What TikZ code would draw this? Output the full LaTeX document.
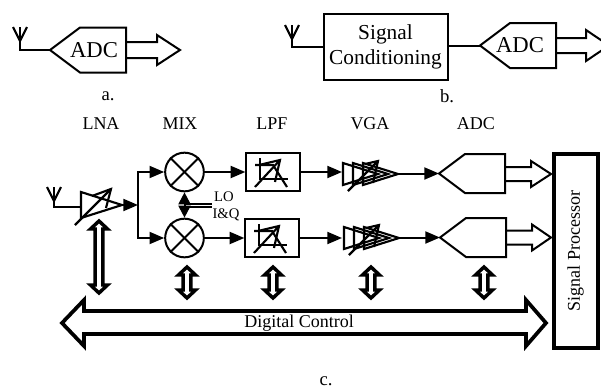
\documentclass[tikz,border=0pt]{standalone}
\usepackage{fontspec}
\setmainfont{Liberation Serif}
\usepackage{xcolor}
\usetikzlibrary{arrows.meta}
\usetikzlibrary{calc}
\usetikzlibrary{positioning}
\tikzset{
    signal line/.style={
        line width=1.5pt,
        -{Triangle[length=11pt,width=9pt]},
    },
    plain line/.style={
        line width=1.5pt,
    },
    thin symbol/.style={
        line width=1.6pt,
    },
    block box/.style={
        draw,
        line width=1.5pt,
        inner sep=0,
    },
    mixer/.style={
        draw,
        circle,
        line width=1.5pt,
        minimum size=29pt,
        inner sep=0,
    },
    ctrl arrow/.style={
        line width=2.6pt,
    },
    bus arrow/.style={
        line width=2.8pt,
    },
    small label/.style={
        font=\fontsize{11}{13}\selectfont,
        inner sep=0,
    },
    name label/.style={
        font=\fontsize{13.5}{15}\selectfont,
        inner sep=0,
    },
    caption label/.style={
        font=\fontsize{14}{16}\selectfont,
        inner sep=0,
    },
    adc label/.style={
        font=\fontsize{17}{20}\selectfont,
        inner sep=0,
    },
}

\begin{document}
\begin{tikzpicture}[x=0.75pt,y=-0.75pt]
    \useasboundingbox (0,0) rectangle (601,390);

    \newcommand\antenna[3]{
        \draw[thin symbol] (#1-7,#2) -- (#1,#2+14) -- (#1+7,#2);
        \draw[thin symbol] (#1,#2) -- (#1,#2+20) |- (#3);
    }
    \newcommand\adcpoly[6]{
        \coordinate (#1) at (#2,#3);
        \draw[plain line] (#1) -- ++(#4,-#5) -- ++(#6-#4,0) -- ++(0,2*#5) -- ++(#4-#6,0) -- cycle;
    }
    \newcommand\dataarrow[6]{
        \draw[plain line] (#1,#2-#5) -- ++(#3,0) -- ++(0,#5-#6) -- ++(#4,#6) -- ++(-#4,#6) -- ++(0,#5-#6) -- ++(-#3,0);
    }
    \newcommand\ctrlarrow[3]{
        \draw[ctrl arrow] (#1,#2) -- ++(8.5,8) -- ++(-4.7,0) -- (#1+3.8,#3-8) -- ++(4.7,0) -- (#1,#3)
            -- ++(-8.5,-8) -- ++(4.7,0) -- (#1-3.8,#2+8) -- ++(-4.7,0) -- cycle;
    }
    \newcommand\filtersym{
        \draw[thin symbol] (-13,-14) -- (-13,7) -- (15,7);
        \draw[thin symbol] (-18,-7) -- (0,-7) -- (14,15);
        \draw[thin symbol] (-18,15) -- (7,-12);
        \draw[thin symbol] (-14,-7) -- (7,-12) -- (2,10);
    }
    \newcommand\vgasym{
        \foreach \s in {0,10,20}
        {
            \draw[thin symbol] (\s-27,-11) -- (\s-27,11) -- (\s+8,0) -- cycle;
        }
        \draw[thin symbol] (-22,17) -- (8,-13);
        \draw[thin symbol] (-5,-10) -- (8,-13) -- (3,9);
    }

    % a.
    \adcpoly{adca}{50}{50}{30}{22.5}{76}
    \node[adc label] (adcatext) at (94,50) {ADC};
    \dataarrow{126}{50}{31}{23}{8}{15}
    \antenna{20}{27}{adca}

    % b.
    \node[block box, minimum width=93pt, minimum height=49pt, align=center, font=\fontsize{16}{18.5}\selectfont] (cond) at (385.5,47) {Signal\\Conditioning};
    \adcpoly{adcb}{480}{45.5}{30}{22.5}{76}
    \node[adc label] (adcbtext) at (520,45) {ADC};
    \dataarrow{556}{45.5}{30}{23}{7.5}{15.5}
    \antenna{292}{25}{cond.west}
    \draw[plain line] (cond.east |- adcb) -- (adcb);

    \node[caption label] (capa) at (108,96) {a.};
    \node[caption label] (capb) at (447,96) {b.};

    % c.
    \node[name label] (lnaname) at (101,124) {LNA};
    \node[name label] (mixname) at (180,124) {MIX};
    \node[name label] (lpfname) at (272,124) {LPF};
    \node[name label] (vganame) at (370,124) {VGA};
    \node[name label] (adcname) at (476,124) {ADC};

    \coordinate (lnain) at (81,207);
    \coordinate (lnaout) at (122,205);
    \coordinate (split) at (138,205);
    \antenna{54}{187}{lnain}
    \draw[thin symbol] (81,192) -- (81,218) -- (122,205) -- cycle;
    \draw[thin symbol] (75,225) -- (111,189);
    \draw[thin symbol] (92,196) -- (111,189) -- (106,208);

    \node[mixer] (mixtop) at (184.5,172) {};
    \node[mixer] (mixbot) at (184.5,238) {};
    \foreach \m in {mixtop,mixbot}
    {
        \draw[plain line] (\m.north west) -- (\m.south east);
        \draw[plain line] (\m.north east) -- (\m.south west);
    }

    \node[block box, minimum width=40pt, minimum height=28.5pt] (lpftop) at (273,172) {};
    \node[block box, minimum width=40pt, minimum height=28.5pt] (lpfbot) at (272,238) {};
    \foreach \m in {lpftop,lpfbot}
    {
        \begin{scope}[shift={(\m)}]
            \filtersym
        \end{scope}
    }

    \coordinate (vgatopin) at (342,172);
    \coordinate (vgabotin) at (342,238);
    \coordinate (vgatopout) at (397,173.5);
    \coordinate (vgabotout) at (398,237.5);
    \begin{scope}[shift={(370,174)}]
        \vgasym
    \end{scope}
    \begin{scope}[shift={(371,238)}]
        \vgasym
    \end{scope}

    \adcpoly{adctop}{439}{173.5}{26}{19.5}{66}
    \adcpoly{adcbot}{440}{237.5}{26}{19.5}{66}
    \dataarrow{505}{174}{26}{20}{7}{13}
    \dataarrow{506}{237.5}{26}{19}{7}{13}

    \draw[signal line] (lnaout) -- (split);
    \draw[signal line] (split) |- (mixtop.west);
    \draw[signal line] (split) |- (mixbot.west);
    \draw[signal line] (mixtop) -- (lpftop);
    \draw[signal line] (mixbot) -- (lpfbot);
    \draw[signal line] (lpftop) -- (vgatopin);
    \draw[signal line] (lpfbot) -- (vgabotin);
    \draw[signal line] (vgatopout) -- (adctop);
    \draw[signal line] (vgabotout) -- (adcbot);

    \coordinate (lofeed) at (212,205.5);
    \coordinate (lonode) at (185,205.5);
    \draw[line width=1pt, double distance=1.2pt] (lonode) -- (lofeed);
    \draw[plain line, {Triangle[length=9pt,width=9pt]}-{Triangle[length=9pt,width=9pt]}] (mixtop) -- (mixbot);
    \node[small label] (lolabel) at (224,197) {LO};
    \node[small label] (iqlabel) at (226,215) {I\&Q};

    % control bus
    \node[draw, line width=3pt, minimum width=33pt, minimum height=146pt, inner sep=0] (proc) at (575.5,251) {};
    \node[name label, rotate=90] (proclabel) at (proc) {Signal Processor};
    \draw[bus arrow] (62,323) -- (84,300) -- (84,311) -- (526,311) -- (526,300) -- (546,323)
        -- (526,346) -- (526,334) -- (84,334) -- (84,346) -- cycle;
    \node[name label] (busname) at (299,323) {Digital Control};
    \ctrlarrow{99}{221}{293}
    \foreach \x in {187,273,371,484}
    {
        \ctrlarrow{\x}{267}{298}
    }

    \node[caption label] (capc) at (326,381) {c.};
\end{tikzpicture}
\end{document}
